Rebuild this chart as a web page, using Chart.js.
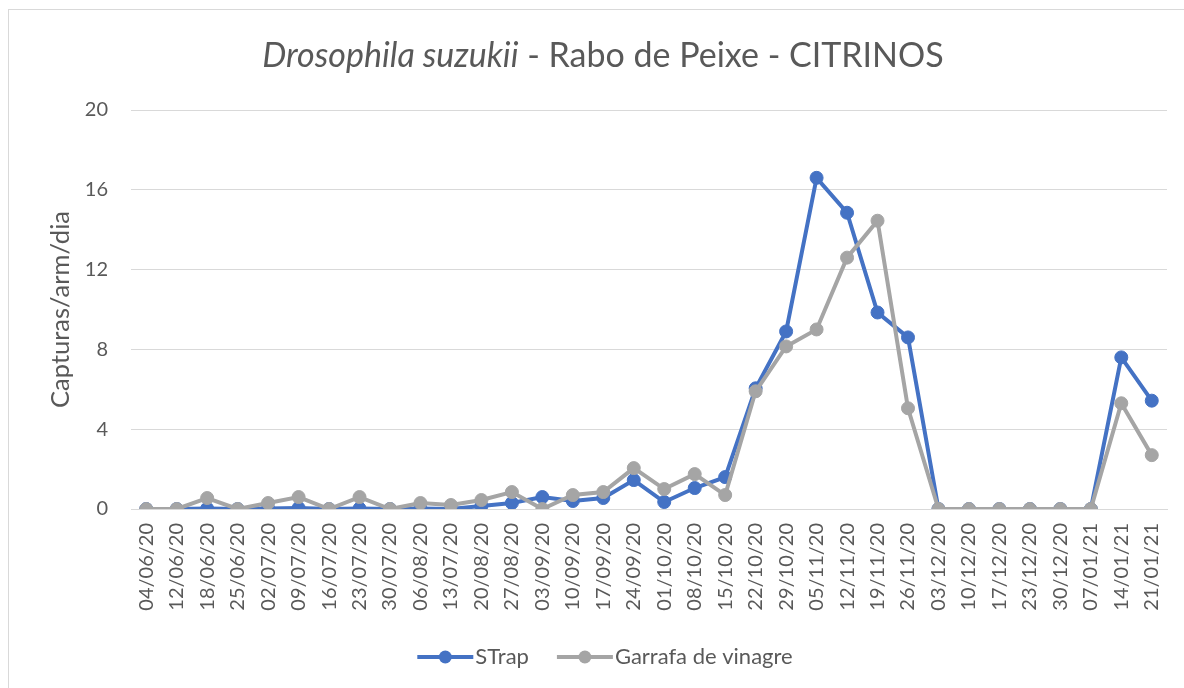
<!DOCTYPE html>
<html>
<head>
<meta charset="utf-8">
<script src="https://cdn.jsdelivr.net/npm/chart.js@4.4.0/dist/chart.umd.min.js"></script>
<style>
  html,body{margin:0;padding:0;background:#fff;}
  #frame{position:absolute;left:8px;top:9px;width:1200px;height:700px;border:1px solid #D9D9D9;}
  #wrap{position:absolute;left:0;top:0;width:1184px;height:688px;}
</style>
</head>
<body>
<div id="frame"></div>
<div id="wrap"><canvas id="chart"></canvas></div>
<script>
// Data
const dates=['04/06/20','12/06/20','18/06/20','25/06/20','02/07/20','09/07/20','16/07/20','23/07/20','30/07/20','06/08/20','13/07/20','20/08/20','27/08/20','03/09/20','10/09/20','17/09/20','24/09/20','01/10/20','08/10/20','15/10/20','22/10/20','29/10/20','05/11/20','12/11/20','19/11/20','26/11/20','03/12/20','10/12/20','17/12/20','23/12/20','30/12/20','07/01/21','14/01/21','21/01/21'];
const strap=[0,0,0.02,0,0.02,0.05,0,0.02,0,0.02,0,0.15,0.3,0.6,0.4,0.55,1.45,0.35,1.05,1.6,6.05,8.9,16.6,14.85,9.85,8.6,0,0,0,0,0,0,7.6,5.43];
const garrafa=[0,0,0.55,0,0.3,0.6,0,0.6,0,0.3,0.2,0.45,0.85,0,0.7,0.85,2.05,1.0,1.75,0.7,5.9,8.15,9.0,12.6,14.45,5.05,0,0,0,0,0,0,5.3,2.7];
const seriesNames=['STrap','Garrafa de vinagre'];
const yTicks=[0,4,8,12,16,20];

const BLUE='#4472C4';
const GRAY='#A5A5A5';
const TEXT='#595959';
const FONT='Lato';

// Title with italic species name
const titlePlugin={
  id:'richTitle',
  afterDraw(chart){
    const ctx=chart.ctx;
    const a='Drosophila suzukii', b=' - Rabo de Peixe - CITRINOS';
    ctx.save();
    ctx.fillStyle=TEXT;
    ctx.textBaseline='alphabetic';
    ctx.font='italic 34px '+FONT;
    const wa=ctx.measureText(a).width;
    ctx.font='34px '+FONT;
    const wb=ctx.measureText(b).width;
    let x=603-(wa+wb)/2;
    ctx.font='italic 34px '+FONT;
    ctx.fillText(a,x,67);
    ctx.font='34px '+FONT;
    ctx.fillText(b,x+wa,67);
    ctx.restore();
  }
};

// Excel style legend: line with marker, then label
const legendPlugin={
  id:'lineLegend',
  afterDraw(chart){
    const ctx=chart.ctx;
    const colors=[BLUE,GRAY];
    ctx.save();
    ctx.font='22px '+FONT;
    const iconW=56, gap=2, sep=28;
    let total=0;
    seriesNames.forEach((n,i)=>{total+=iconW+gap+ctx.measureText(n).width+(i?0:sep);});
    let x=605-total/2;
    const y=657;
    seriesNames.forEach((n,i)=>{
      ctx.strokeStyle=colors[i];
      ctx.lineWidth=4;
      ctx.beginPath();ctx.moveTo(x,y);ctx.lineTo(x+iconW,y);ctx.stroke();
      ctx.fillStyle=colors[i];
      ctx.beginPath();ctx.arc(x+iconW/2,y,6.5,0,Math.PI*2);ctx.fill();
      ctx.fillStyle=TEXT;
      ctx.textBaseline='middle';
      ctx.fillText(n,x+iconW+gap,y);
      x+=iconW+gap+ctx.measureText(n).width+sep;
    });
    ctx.restore();
  }
};

new Chart(document.getElementById('chart'),{
  type:'line',
  data:{
    labels:dates,
    datasets:[
      {label:seriesNames[0],data:strap,borderColor:BLUE,backgroundColor:BLUE,borderWidth:4,pointRadius:6.5,pointBorderWidth:1,pointHoverRadius:6.5,order:1,tension:0},
      {label:seriesNames[1],data:garrafa,borderColor:GRAY,backgroundColor:GRAY,borderWidth:4,pointRadius:6.5,pointBorderWidth:1,pointHoverRadius:6.5,order:0,tension:0}
    ]
  },
  options:{
    responsive:true,
    maintainAspectRatio:false,
    animation:false,
    layout:{padding:{top:110,right:17,left:0,bottom:0}},
    plugins:{legend:{display:false},title:{display:false},tooltip:{enabled:false}},
    scales:{
      x:{
        offset:true,
        grid:{display:false,drawTicks:false},
        border:{display:true,color:'#D9D9D9',width:1},
        ticks:{color:TEXT,font:{family:FONT,size:20},minRotation:90,maxRotation:90,autoSkip:false,padding:14},
        afterFit(s){s.height=179;s.paddingLeft=0;s.paddingRight=0;}
      },
      y:{
        min:0,max:20,
        afterBuildTicks(s){s.ticks=yTicks.map(v=>({value:v}));},
        grid:{color:'#D9D9D9',drawTicks:false},
        border:{display:false},
        ticks:{color:TEXT,font:{family:FONT,size:20},padding:23},
        title:{display:true,text:'Capturas/arm/dia',color:TEXT,font:{family:FONT,size:25.5},padding:{top:45,bottom:0}},
        afterFit(s){s.width=131;}
      }
    }
  },
  plugins:[titlePlugin,legendPlugin]
});
</script>
</body>
</html>
